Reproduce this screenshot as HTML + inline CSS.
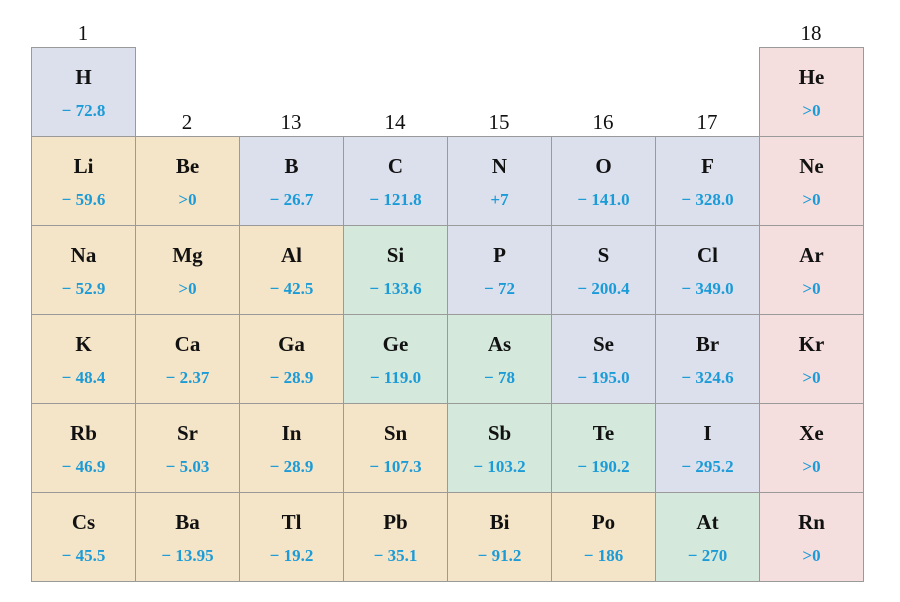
<!DOCTYPE html>
<html><head><meta charset="utf-8">
<style>
body{margin:0;width:900px;height:602px;background:#fff;position:relative;overflow:hidden;font-family:"Liberation Serif",serif;}
.cell{position:absolute;box-sizing:border-box;border:1.5px solid #9a9a9a;width:105px;height:90px;}
.sym{position:absolute;left:0;right:0;top:17px;text-align:center;font-weight:bold;font-size:21px;color:#111;}
.val{position:absolute;left:0;right:0;top:53px;text-align:center;font-weight:bold;font-size:17px;color:#1b9bd7;}
.grp{position:absolute;width:104px;text-align:center;font-size:21px;color:#111;}
</style></head><body>
<script>
const symbols=[["H",null,null,null,null,null,null,"He"],
["Li","Be","B","C","N","O","F","Ne"],
["Na","Mg","Al","Si","P","S","Cl","Ar"],
["K","Ca","Ga","Ge","As","Se","Br","Kr"],
["Rb","Sr","In","Sn","Sb","Te","I","Xe"],
["Cs","Ba","Tl","Pb","Bi","Po","At","Rn"]];
const values=[["− 72.8",null,null,null,null,null,null,">0"],
["− 59.6",">0","− 26.7","− 121.8","+7","− 141.0","− 328.0",">0"],
["− 52.9",">0","− 42.5","− 133.6","− 72","− 200.4","− 349.0",">0"],
["− 48.4","− 2.37","− 28.9","− 119.0","− 78","− 195.0","− 324.6",">0"],
["− 46.9","− 5.03","− 28.9","− 107.3","− 103.2","− 190.2","− 295.2",">0"],
["− 45.5","− 13.95","− 19.2","− 35.1","− 91.2","− 186","− 270",">0"]];
const kinds=[["b",0,0,0,0,0,0,"p"],
["y","y","b","b","b","b","b","p"],
["y","y","y","g","b","b","b","p"],
["y","y","y","g","g","b","b","p"],
["y","y","y","y","g","g","b","p"],
["y","y","y","y","y","y","g","p"]];
const groups=["1","2","13","14","15","16","17","18"];
const colors={b:"#dce0ec",y:"#f5e5c8",g:"#d4e8dc",p:"#f5dede"};
const x0=31,cw=104,y0=47,rh=89;
groups.forEach((g,i)=>{
  const d=document.createElement('div');d.className='grp';
  
  
  d.style.left=(x0+i*cw)+'px';
  d.style.top=((i==0||i==7)?21:110)+'px';
  d.textContent=g;document.body.appendChild(d);
});
symbols.forEach((row,r)=>row.forEach((s,c)=>{
  if(!s)return;
  const d=document.createElement('div');d.className='cell';
  
  
  d.style.left=(x0+c*cw)+'px';d.style.top=(y0+r*rh)+'px';
  d.style.background=colors[kinds[r][c]];
  const a=document.createElement('div');a.className='sym';a.textContent=s;
  
  
  const v=document.createElement('div');v.className='val';v.textContent=values[r][c];
  
  
  d.appendChild(a);d.appendChild(v);document.body.appendChild(d);
}));
</script>
</body></html>
